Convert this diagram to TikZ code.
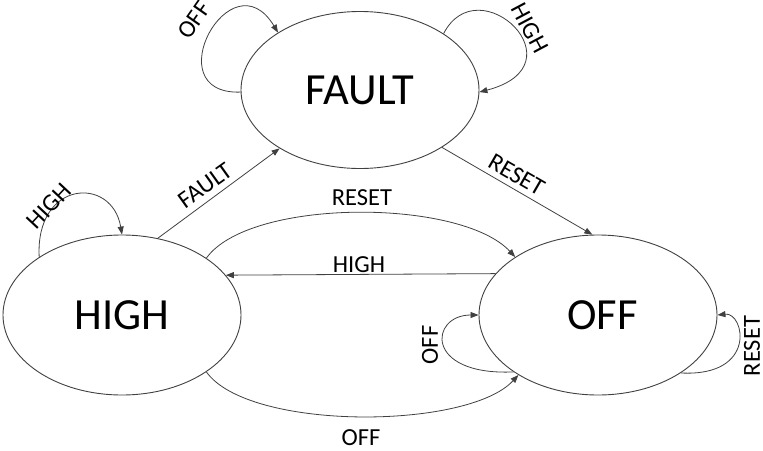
\documentclass[tikz,border=0pt]{standalone}
\usepackage{fontspec}
\setmainfont{Carlito}
\usetikzlibrary{shapes.geometric,arrows.meta}
\begin{document}
\begin{tikzpicture}[x=1pt,y=-1pt,
  state/.style={draw=black!75, line width=0.9pt, ellipse, inner sep=0pt,
    minimum width=238pt, minimum height=160pt, font=\fontsize{44.5}{52}\selectfont},
  conn/.style={draw=black!75, line width=0.8pt, -{Triangle[length=8pt,width=6pt]}},
  lbl/.style={font=\fontsize{24.5}{29}\selectfont, inner sep=0pt}
]
\useasboundingbox (0,0) rectangle (763,450);

\node[state, minimum height=157pt] (fault) at (360,90) {FAULT\hspace{12pt}};
\node[state] (high) at (122,315) {HIGH};
\node[state] (off) at (598,315) {\hspace{9pt}OFF};

% straight connectors
\draw[conn] (high.65) -- (fault.216);
\draw[conn] (fault.325) -- (off.94);
\draw[conn] (off.158.2) -- (high.21.9);

% curved connectors between HIGH and OFF
\draw[conn] (high.34) .. controls +(43,-60) and +(-55,-59) .. (off.145);
\draw[conn] (high.-34) .. controls +(42,59) and +(-51,55) .. (off.217);

% self loops
\draw[conn] (fault.181) .. controls +(-86,3) and +(-47,-78) .. (fault.145.5);
\draw[conn] (fault.34) .. controls +(35,-68) and +(104,-27) .. (fault.-1);
\draw[conn] (high.145) .. controls +(-4,-77) and +(-10,-59) .. (high.90);
\draw[conn] (off.214.7) .. controls +(-90,4) and +(-49,0) .. (off.180);
\draw[conn] (off.325) .. controls +(77,4) and +(27,-3) .. (off.0);

% labels
\node[lbl, rotate=35.5] (lfault) at (205,186) {FAULT};
\node[lbl, rotate=-30] (lresetd) at (516.5,175) {RESET};
\node[lbl] (lresett) at (362,198) {RESET};
\node[lbl] (lhighm) at (359,264.5) {HIGH};
\node[lbl] (loffb) at (361,438) {OFF};
\node[lbl, rotate=55] (lofff) at (194,20) {OFF};
\node[lbl, rotate=-62] (lhighf) at (530,28) {HIGH};
\node[lbl, rotate=47] (lhighh) at (49,206) {HIGH};
\node[lbl, rotate=90] (loffo) at (430,345) {OFF};
\node[lbl, rotate=90] (lreseto) at (752,346) {RESET};
\end{tikzpicture}
\end{document}
